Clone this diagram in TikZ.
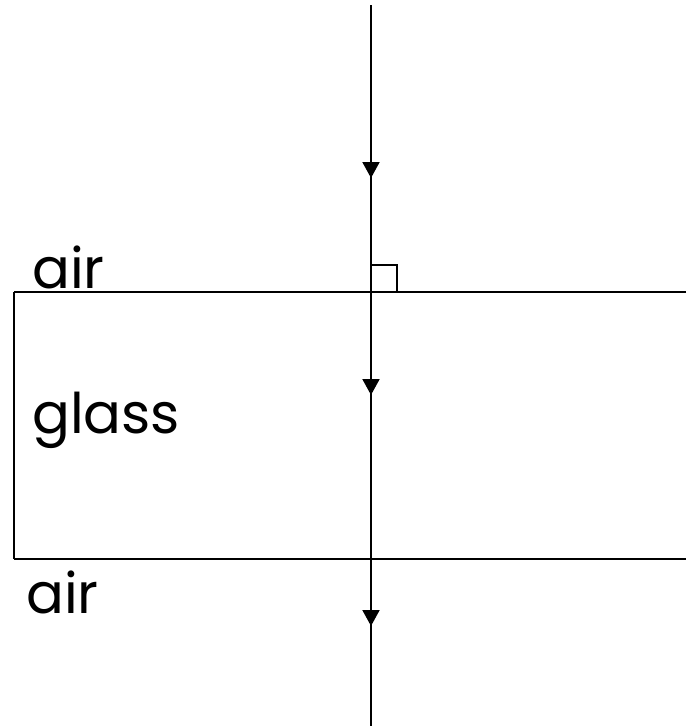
\documentclass[tikz,border=0pt]{standalone}
\usepackage{fontspec}
\setmainfont{Poppins}
\usetikzlibrary{arrows.meta}
\begin{document}
\begin{tikzpicture}[x=1pt,y=-1pt,
  ray/.style={line width=2pt},
  edge/.style={line width=2pt},
  arr/.style={line width=2pt,-{Triangle[length=16pt,width=17pt]}},
  lbl/.style={anchor=base west,inner sep=0pt,font=\fontsize{56}{62}\selectfont}]
\useasboundingbox (0,0) rectangle (686,726);
% coordinates
\coordinate (rtop) at (371,5);
\coordinate (rbot) at (371,726);
\coordinate (tl) at (14,292);
\coordinate (tr) at (686,292);
\coordinate (bl) at (14,559);
\coordinate (br) at (686,559);
% glass block
\draw[edge] (tr) -- (tl);
\draw[line width=1.5pt] (tl) -- (bl);
\draw[edge] (bl) -- (br);
% ray
\draw[ray] (rtop) -- (rbot);
% right angle mark
\coordinate (ra1) at (371,265);
\coordinate (ra2) at (397,265);
\coordinate (ra3) at (397,292);
\draw[line width=1.5pt] (ra1) -- (ra2) -- (ra3);
% arrows
\coordinate (a1s) at (371,80);
\coordinate (a1e) at (371,178);
\coordinate (a2s) at (371,340);
\coordinate (a2e) at (371,395);
\coordinate (a3s) at (371,568);
\coordinate (a3e) at (371,626);
\draw[arr] (a1s) -- (a1e);
\draw[arr] (a2s) -- (a2e);
\draw[arr] (a3s) -- (a3e);
% labels
\node[lbl] (air1) at (32,288) {air};
\node[lbl] (glass) at (32,433) {glass};
\node[lbl] (air2) at (26,613) {air};
\end{tikzpicture}
\end{document}
